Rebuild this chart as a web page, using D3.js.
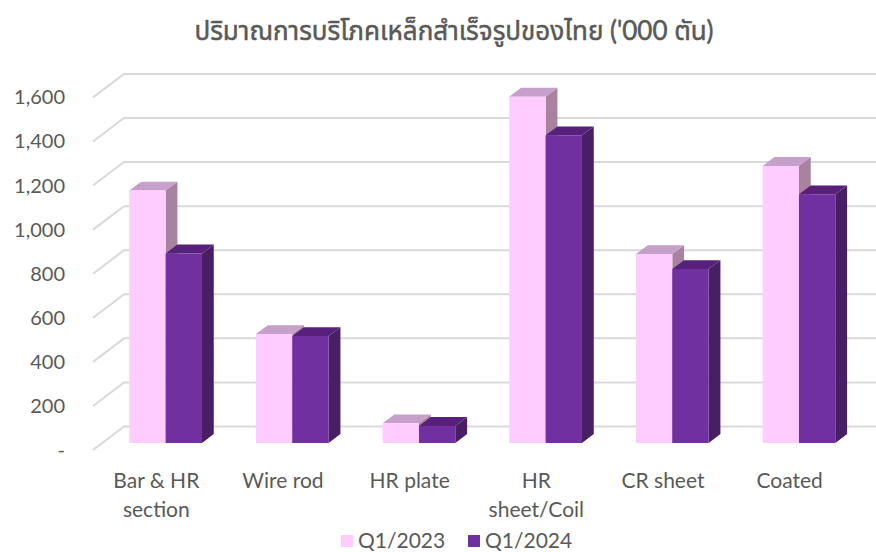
<!DOCTYPE html>
<html>
<head>
<meta charset="utf-8">
<script src="https://cdn.jsdelivr.net/npm/d3@7"></script>
<style>
  body { margin: 0; background: #fff; }
  text { font-family: Lato, "Noto Sans", "Noto Sans Thai", sans-serif; fill: #595959; }
</style>
</head>
<body>
<div id="chart"></div>
<script>
(function () {

  // data ('000 tonnes)
  var categories = [["Bar & HR", "section"], ["Wire rod"], ["HR plate"], ["HR", "sheet/Coil"], ["CR sheet"], ["Coated"]]
  var seriesNames = ["Q1/2023", "Q1/2024"]
  var q12023 = [1145, 494, 89, 1571, 857, 1257]
  var q12024 = [860, 485, 77, 1396, 789, 1128]
  var yTicks = [0, 200, 400, 600, 800, 1000, 1200, 1400, 1600]

  var width = 876, height = 552

  // 3d look: depth of the floor and where the bars sit in it
  var depthX = 31, depthY = -23.5
  var barFront = 0.3, barBack = 0.68
  var floorY = 450

  var colors = [
    { front: "#FFCCFF", top: "#C79FCB", side: "#A8829F" },
    { front: "#7030A0", top: "#57217B", side: "#481E64" }
  ]

  var svg = d3.select("#chart").append("svg")
    .attr("width", width)
    .attr("height", height)

  var xScale = d3.scaleBand()
    .domain(d3.range(categories.length))
    .range([93, 853])
    .paddingInner(0.426)
    .paddingOuter(0.213)

  var xSeries = d3.scaleBand()
    .domain(d3.range(seriesNames.length))
    .range([0, xScale.bandwidth()])

  var hScale = d3.scaleLinear().domain([0, 1600]).range([0, 352.6])

  // point at depth f (0 = front, 1 = back wall)
  function pt(x, f, v) {
    return [x + f * depthX, floorY + f * depthY - hScale(v)]
  }

  // gridlines on the side wall and back wall
  var grid = svg.append("g")
  yTicks.forEach(function (v) {
    var a = pt(93, 0, v), b = pt(93, 1, v)
    grid.append("path")
      .attr("d", d3.line()([a, b, [width, b[1]]]))
      .attr("fill", "none")
      .attr("stroke", "#D9D9D9")
      .attr("stroke-width", 2)
  })

  // y axis labels
  svg.append("g").selectAll("text")
    .data(yTicks)
    .enter()
    .append("text")
    .attr("x", 65)
    .attr("y", function (d) { return pt(93, 0, d)[1] + 7 })
    .attr("text-anchor", "end")
    .attr("font-size", 20)
    .text(function (d) { return d === 0 ? "-" : d3.format(",")(d) })

  // bars
  var allSeries = [q12023, q12024]
  var bars = svg.append("g")
  categories.forEach(function (c, i) {
    allSeries.forEach(function (values, s) {
      var v = values[i]
      var x0 = xScale(i) + xSeries(s)
      var x1 = x0 + xSeries.bandwidth()
      var fbl = pt(x0, barFront, 0), fbr = pt(x1, barFront, 0)
      var ftl = pt(x0, barFront, v), ftr = pt(x1, barFront, v)
      var btl = pt(x0, barBack, v), btr = pt(x1, barBack, v)
      var bbr = pt(x1, barBack, 0)
      var line = d3.line()
      bars.append("path")
        .attr("d", line([fbr, bbr, btr, ftr]) + "Z")
        .attr("fill", colors[s].side)
      bars.append("path")
        .attr("d", line([ftl, ftr, btr, btl]) + "Z")
        .attr("fill", colors[s].top)
      bars.append("path")
        .attr("d", line([fbl, fbr, ftr, ftl]) + "Z")
        .attr("fill", colors[s].front)
    })
  })

  // category labels, centred on the front plane
  var labels = svg.append("g").selectAll("text")
    .data(categories)
    .enter()
    .append("text")
    .attr("text-anchor", "middle")
    .attr("font-size", 21)
    .attr("x", function (d, i) { return xScale(i) + xScale.bandwidth() / 2 })
    .attr("y", 488)

  labels.selectAll("tspan")
    .data(function (d) { return d })
    .enter()
    .append("tspan")
    .attr("x", function () { return this.parentNode.getAttribute("x") })
    .attr("dy", function (d, j) { return j === 0 ? 0 : 29 })
    .text(function (d) { return d })

  // title
  svg.append("text")
    .attr("x", 454)
    .attr("y", 40)
    .attr("text-anchor", "middle")
    .attr("font-size", 26)
    .attr("stroke", "#595959")
    .attr("stroke-width", 0.5)
    .text("ปริมาณการบริโภคเหล็กสำเร็จรูปของไทย ('000 ตัน)")

  // legend
  var legendX = [341, 468]
  var legend = svg.append("g").selectAll("g")
    .data(seriesNames)
    .enter()
    .append("g")
    .attr("transform", function (d, i) { return "translate(" + legendX[i] + ",535)" })

  legend.append("rect")
    .attr("width", 12)
    .attr("height", 12)
    .attr("fill", function (d, i) { return colors[i].front })

  legend.append("text")
    .attr("x", 17)
    .attr("y", 13)
    .attr("font-size", 21)
    .text(function (d) { return d })

})()
</script>
</body>
</html>
